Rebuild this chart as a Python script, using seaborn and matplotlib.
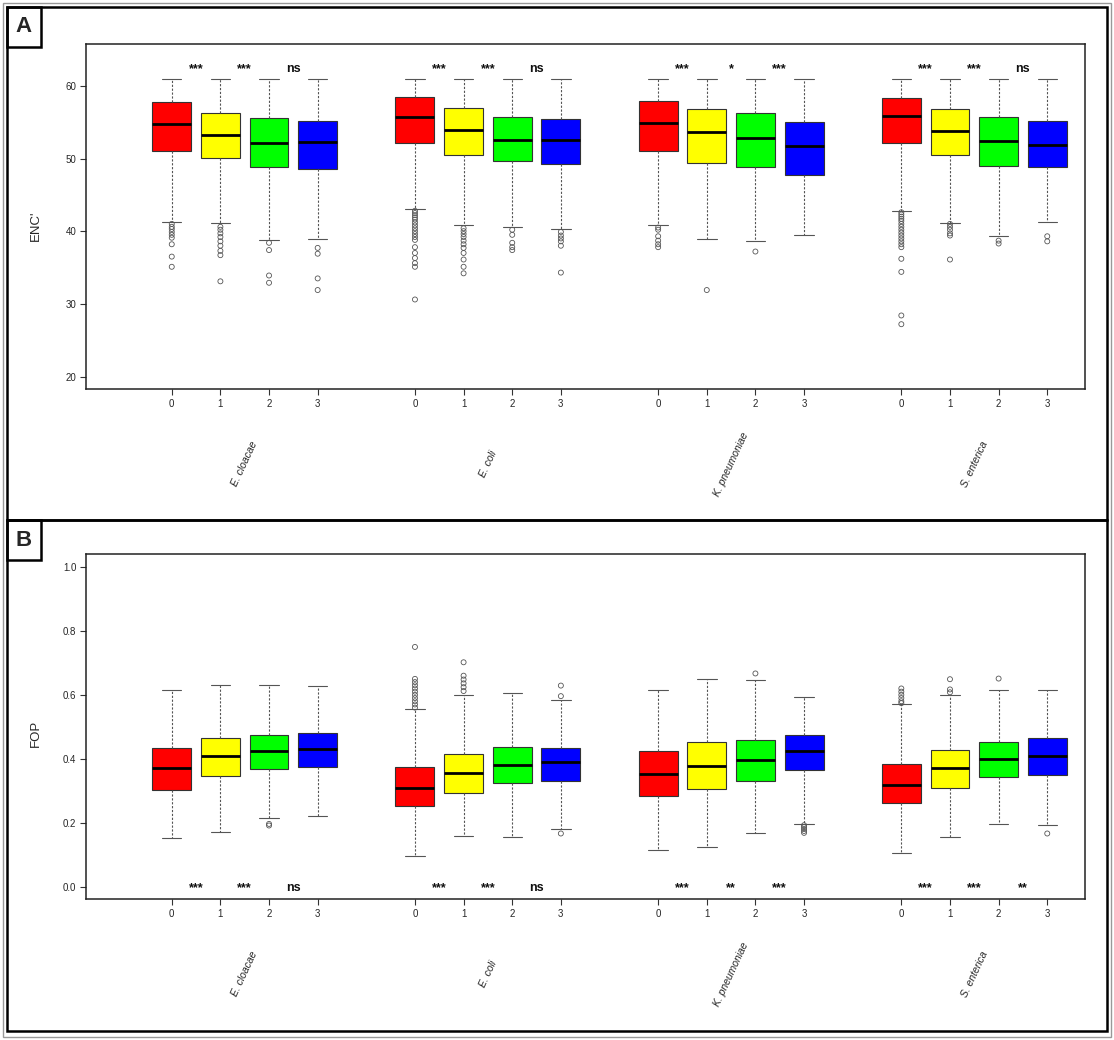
import numpy as np
import pandas as pd
import seaborn as sns
import matplotlib.pyplot as plt
import matplotlib.transforms as mtransforms
from matplotlib.patches import Rectangle

# categories
species = ["E. cloacae", "E. coli", "K. pneumoniae", "S. enterica"]
groups = ["0", "1", "2", "3"]
box_colors = ["#FF0000", "#FFFF00", "#00FF00", "#0000FF"]

# panel A - ENC' box statistics, rows = species, columns = group 0..3
enc_low = [[41.3, 41.1, 38.8, 38.9], [43.0, 40.8, 40.6, 40.3],
           [40.8, 38.9, 38.6, 39.5], [42.8, 41.1, 39.3, 41.3]]
enc_q1 = [[51.1, 50.1, 48.9, 48.6], [52.2, 50.5, 49.6, 49.3],
          [51.1, 49.4, 48.8, 47.7], [52.1, 50.5, 49.0, 48.9]]
enc_med = [[54.8, 53.3, 52.2, 52.3], [55.7, 53.9, 52.5, 52.6],
           [54.9, 53.7, 52.8, 51.7], [55.8, 53.8, 52.4, 51.9]]
enc_q3 = [[57.8, 56.3, 55.6, 55.2], [58.4, 57.0, 55.7, 55.5],
          [57.9, 56.8, 56.2, 55.0], [58.3, 56.8, 55.7, 55.2]]
enc_high = [[61.0, 61.0, 61.0, 61.0], [61.0, 61.0, 61.0, 61.0],
            [61.0, 61.0, 61.0, 61.0], [61.0, 61.0, 61.0, 61.0]]
enc_outliers = [
    [[41.0, 40.6, 40.3, 39.9, 39.5, 39.1, 38.2, 36.5, 35.1],
     [40.6, 40.2, 39.7, 39.2, 38.6, 38.0, 37.3, 36.7, 33.1],
     [38.4, 37.4, 33.9, 32.9],
     [37.7, 36.9, 33.5, 31.9]],
    [[42.8, 42.5, 42.2, 41.9, 41.6, 41.2, 40.8, 40.4, 40.0, 39.6, 39.2, 38.8,
      37.8, 37.0, 36.3, 35.6, 35.1, 30.6],
     [40.4, 40.0, 39.6, 39.2, 38.7, 38.2, 37.7, 37.0, 36.1, 35.1, 34.2],
     [40.2, 39.5, 38.4, 37.8, 37.4],
     [39.9, 39.4, 39.0, 38.6, 38.0, 34.3]],
    [[40.5, 40.2, 39.3, 38.7, 38.2, 37.8],
     [31.9],
     [37.2],
     []],
    [[42.6, 42.3, 42.0, 41.7, 41.4, 41.0, 40.6, 40.2, 39.8, 39.4, 39.0, 38.6,
      38.2, 37.8, 36.2, 34.4, 28.4, 27.2],
     [41.0, 40.6, 40.2, 39.7, 39.4, 36.1],
     [38.7, 38.3],
     [39.3, 38.6]],
]
enc_sig = [["***", "***", "ns"], ["***", "***", "ns"],
           ["***", "*", "***"], ["***", "***", "ns"]]

# panel B - FOP box statistics
fop_low = [[0.151, 0.172, 0.213, 0.222], [0.094, 0.157, 0.154, 0.181],
           [0.113, 0.123, 0.166, 0.195], [0.106, 0.155, 0.195, 0.192]]
fop_q1 = [[0.302, 0.346, 0.369, 0.374], [0.252, 0.292, 0.323, 0.329],
          [0.283, 0.305, 0.331, 0.364], [0.263, 0.308, 0.342, 0.349]]
fop_med = [[0.372, 0.409, 0.425, 0.431], [0.309, 0.356, 0.381, 0.391],
           [0.353, 0.378, 0.397, 0.425], [0.319, 0.371, 0.399, 0.410]]
fop_q3 = [[0.434, 0.466, 0.473, 0.482], [0.373, 0.416, 0.438, 0.433],
          [0.425, 0.453, 0.460, 0.475], [0.384, 0.426, 0.451, 0.466]]
fop_high = [[0.615, 0.631, 0.630, 0.628], [0.555, 0.600, 0.607, 0.585],
            [0.615, 0.651, 0.647, 0.594], [0.570, 0.600, 0.615, 0.615]]
fop_outliers = [
    [[], [], [0.196, 0.191], []],
    [[0.56, 0.57, 0.58, 0.59, 0.60, 0.61, 0.62, 0.63, 0.64, 0.65, 0.75],
     [0.612, 0.624, 0.636, 0.648, 0.66, 0.702],
     [],
     [0.629, 0.596, 0.166]],
    [[], [], [0.667], [0.192, 0.186, 0.180, 0.174, 0.168]],
    [[0.574, 0.58, 0.59, 0.60, 0.61, 0.62],
     [0.608, 0.617, 0.649],
     [0.651],
     [0.166]],
]
fop_sig = [["***", "***", "ns"], ["***", "***", "ns"],
           ["***", "**", "***"], ["***", "***", "**"]]

sns.set_theme(style="ticks")
plt.rcParams["font.family"] = ["Liberation Sans", "DejaVu Sans"]

W, H = 1114, 1040
fig = plt.figure(figsize=(W / 100, H / 100), dpi=100)

# hue offsets used by seaborn (width .8, 4 levels)
offsets = (np.arange(len(groups)) - 1.5) * 0.8 / len(groups)


def draw_panel(ax, low, q1, med, q3, high, outl, sig, ylim, yticks, yfmt,
               ylabel, sig_y, ylab_y):
    rows = []
    for i, sp in enumerate(species):
        for j, g in enumerate(groups):
            for v in (low[i][j], q1[i][j], med[i][j], q3[i][j], high[i][j]):
                rows.append((sp, g, v))
    box_df = pd.DataFrame(rows, columns=["species", "group", "value"])

    sns.boxplot(data=box_df, x="species", y="value", hue="group",
                order=species, hue_order=groups, palette=box_colors,
                saturation=1, whis=(0, 100), width=0.8, gap=0.2,
                linecolor="#333333", linewidth=0.8, showfliers=False,
                medianprops=dict(color="black", linewidth=2),
                whiskerprops=dict(color="#555555", linewidth=0.8,
                                  linestyle=(0, (2, 1.5))),
                capprops=dict(color="#555555", linewidth=0.8),
                legend=False, ax=ax)

    orows = []
    for i, sp in enumerate(species):
        for j, g in enumerate(groups):
            for v in outl[i][j]:
                orows.append((sp, g, v))
    out_df = pd.DataFrame(orows, columns=["species", "group", "value"])
    n_before = len(ax.collections)
    sns.stripplot(data=out_df, x="species", y="value", hue="group",
                  order=species, hue_order=groups, palette=box_colors,
                  dodge=True, jitter=False, size=3.6, legend=False, ax=ax)
    for coll in ax.collections[n_before:]:
        coll.set_facecolor("none")
        coll.set_edgecolor("#555555")
        coll.set_linewidth(0.6)

    # significance labels between neighbouring boxes
    for i in range(len(species)):
        for k in range(3):
            xm = i + (offsets[k] + offsets[k + 1]) / 2
            ax.text(xm, sig_y, sig[i][k], ha="center", va="center",
                    fontsize=9, fontweight="bold", color="#111111")

    ax.set_xlim(-0.651, 3.454)
    ax.set_ylim(*ylim)
    ax.set_yticks(yticks)
    ax.set_yticklabels([yfmt.format(t) for t in yticks])
    xt = [i + o for i in range(len(species)) for o in offsets]
    ax.set_xticks(xt)
    ax.set_xticklabels(groups * len(species))
    ax.set_xlabel("")
    ax.set_ylabel(ylabel, fontsize=9.5)
    ax.yaxis.set_label_coords(-0.0445, ylab_y)
    ax.tick_params(axis="both", direction="out", length=4.2, width=0.8,
                   labelsize=7, pad=3, color="#333333")
    for s in ax.spines.values():
        s.set_visible(True)
        s.set_linewidth(1.1)
        s.set_color("#222222")

    trans = mtransforms.blended_transform_factory(ax.transData, ax.transAxes)
    for i, sp in enumerate(species):
        ax.text(i, -0.217, sp, transform=trans, rotation=65, ha="center",
                va="center", fontsize=7.5, style="italic")


def fx(px):
    return px / W


def fy(py):
    return 1 - py / H


ax_a = fig.add_axes([fx(86.4), fy(389.3), fx(1084.7) - fx(86.4),
                     fy(44) - fy(389.3)])
ax_b = fig.add_axes([fx(86.4), fy(899.3), fx(1084.7) - fx(86.4),
                     fy(554.3) - fy(899.3)])

draw_panel(ax_a, enc_low, enc_q1, enc_med, enc_q3, enc_high, enc_outliers,
           enc_sig, (18.24, 65.76), [20, 30, 40, 50, 60], "{:.0f}", "ENC'",
           62.3, 0.475)
draw_panel(ax_b, fop_low, fop_q1, fop_med, fop_q3, fop_high, fop_outliers,
           fop_sig, (-0.04, 1.04), [0.0, 0.2, 0.4, 0.6, 0.8, 1.0], "{:.1f}",
           "FOP", -0.006, 0.482)

# panel frames and letter boxes
fig.add_artist(Rectangle((fx(3), fy(1037)), fx(1111) - fx(3),
                         fy(3) - fy(1037), transform=fig.transFigure,
                         fill=False, edgecolor="#999999", linewidth=1))
for top, bottom, letter in [(7, 520, "A"), (520, 1031, "B")]:
    fig.add_artist(Rectangle((fx(7), fy(bottom)), fx(1107) - fx(7),
                             fy(top) - fy(bottom), transform=fig.transFigure,
                             fill=False, edgecolor="black", linewidth=1.8))
    fig.add_artist(Rectangle((fx(7), fy(top + 40)), fx(41) - fx(7),
                             fy(top) - fy(top + 40), transform=fig.transFigure,
                             fill=False, edgecolor="black", linewidth=1.8))
    fig.text(fx(24), fy(top + 20), letter, ha="center", va="center",
             fontsize=16, fontweight="bold")

fig.savefig("out.png", dpi=100)
